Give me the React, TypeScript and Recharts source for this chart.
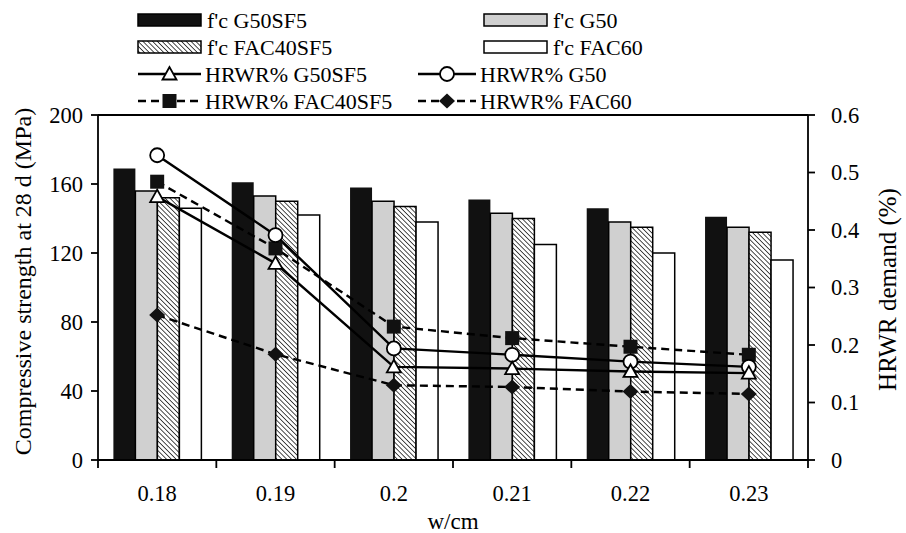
import { ComposedChart, Bar, Line, XAxis, YAxis, ReferenceLine } from 'recharts'

document.body.style.margin = '0'

const wcm = ['0.18', '0.19', '0.2', '0.21', '0.22', '0.23']

// compressive strength at 28 d (MPa)
const fcG50SF5 = [169, 161, 158, 151, 146, 141]
const fcG50 = [156, 153, 150, 143, 138, 135]
const fcFAC40SF5 = [152, 150, 147, 140, 135, 132]
const fcFAC60 = [146, 142, 138, 125, 120, 116]

// HRWR demand (%)
const hrwrG50SF5 = [0.458, 0.342, 0.162, 0.159, 0.154, 0.151]
const hrwrG50 = [0.53, 0.391, 0.194, 0.183, 0.171, 0.162]
const hrwrFAC40SF5 = [0.484, 0.368, 0.232, 0.212, 0.197, 0.183]
const hrwrFAC60 = [0.252, 0.184, 0.13, 0.127, 0.119, 0.115]

const strengthTicks = [0, 40, 80, 120, 160, 200]
const hrwrTicks = [0, 0.1, 0.2, 0.3, 0.4, 0.5, 0.6]

const data = wcm.map((w, i) => ({
  wcm: w,
  fcG50SF5: fcG50SF5[i],
  fcG50: fcG50[i],
  fcFAC40SF5: fcFAC40SF5[i],
  fcFAC60: fcFAC60[i],
  hrwrG50SF5: hrwrG50SF5[i],
  hrwrG50: hrwrG50[i],
  hrwrFAC40SF5: hrwrFAC40SF5[i],
  hrwrFAC60: hrwrFAC60[i],
}))

const FONT = '"Liberation Serif", "Times New Roman", serif'
const INK = '#111'
const GRAY = '#d0d0d0'
const DASH = '8 5'
const LW = 2.4
const axisStroke = { stroke: '#000', strokeWidth: 1.8 }
const tickStyle = { fill: '#000', fontSize: 22.5, fontFamily: FONT }

const Triangle = ({ cx, cy }: any) => (
  <polygon
    points={`${cx},${cy - 7} ${cx - 7},${cy + 5.5} ${cx + 7},${cy + 5.5}`}
    fill="#fff" stroke="#000" strokeWidth={1.8}
  />
)
const Circle = ({ cx, cy }: any) => (
  <circle cx={cx} cy={cy} r={7} fill="#fff" stroke="#000" strokeWidth={1.8} />
)
const Square = ({ cx, cy }: any) => (
  <rect x={cx - 7} y={cy - 7} width={14} height={14} fill={INK} />
)
const Diamond = ({ cx, cy }: any) => (
  <polygon points={`${cx},${cy - 7.5} ${cx + 8},${cy} ${cx},${cy + 7.5} ${cx - 8},${cy}`} fill={INK} />
)

// category label in the middle, tick marks on the category edges
const XTick = ({ x, y, payload, index, visibleTicksCount }: any) => {
  const half = payload?.offset || 710 / 12
  const last = index === visibleTicksCount - 1
  return (
    <g>
      <line x1={x - half} x2={x - half} y1={y} y2={y + 8} stroke="#000" strokeWidth={1.8} />
      {last && <line x1={x + half} x2={x + half} y1={y} y2={y + 8} stroke="#000" strokeWidth={1.8} />}
      <text x={x} y={y + 25} dy="0.71em" textAnchor="middle" fontSize={22.5} fontFamily={FONT} fill="#000">
        {payload.value}
      </text>
    </g>
  )
}

const XTitle = ({ viewBox }: any) => (
  <text x={viewBox.x + viewBox.width / 2} y={viewBox.y + 61} dy="0.35em" textAnchor="middle"
    fontSize={23} fontFamily={FONT} fill="#000">
    w/cm
  </text>
)
const LeftTitle = ({ viewBox }: any) => {
  const x = viewBox.x - 15
  const y = viewBox.y + viewBox.height / 2 - 6
  return (
    <text x={x} y={y} transform={`rotate(-90, ${x}, ${y})`} textAnchor="middle"
      dy="0.35em" fontSize={24} fontFamily={FONT} fill="#000">
      Compressive strength at 28 d (MPa)
    </text>
  )
}
const RightTitle = ({ viewBox }: any) => {
  const x = viewBox.x + 79
  const y = viewBox.y + viewBox.height / 2 + 2
  return (
    <text x={x} y={y} transform={`rotate(-90, ${x}, ${y})`} textAnchor="middle"
      dy="0.35em" fontSize={25} fontFamily={FONT} fill="#000">
      HRWR demand (%)
    </text>
  )
}

const legendBars = [
  { label: "f'c G50SF5", fill: INK, x: 138, row: 0 },
  { label: "f'c G50", fill: GRAY, x: 484, row: 0 },
  { label: "f'c FAC40SF5", fill: 'url(#hatchL)', x: 138, row: 1 },
  { label: "f'c FAC60", fill: '#fff', x: 484, row: 1 },
]
const legendLines = [
  { label: 'HRWR% G50SF5', dash: undefined, Mark: Triangle, x: 138, w: 63, row: 2 },
  { label: 'HRWR% G50', dash: undefined, Mark: Circle, x: 418, w: 58, row: 2 },
  { label: 'HRWR% FAC40SF5', dash: DASH, Mark: Square, x: 138, w: 63, row: 3 },
  { label: 'HRWR% FAC60', dash: DASH, Mark: Diamond, x: 418, w: 58, row: 3 },
]
const rowY = [20, 47, 74, 101]

function LegendBlock() {
  return (
    <svg width={906} height={120} style={{ position: 'absolute', left: 0, top: 0 }}>
      <defs>
        <pattern id="hatchL" patternUnits="userSpaceOnUse" width={3.4} height={3.4} patternTransform="rotate(-45)">
          <rect width={3.4} height={3.4} fill="#fff" />
          <line x1={0} y1={0} x2={0} y2={3.4} stroke="#000" strokeWidth={1.4} />
        </pattern>
      </defs>
      {legendBars.map((b) => (
        <g key={b.label}>
          <rect x={b.x} y={rowY[b.row] - 6} width={63} height={12} fill={b.fill} stroke="#000" strokeWidth={1.5} />
          <text x={b.x + 69} y={rowY[b.row]} dy="0.35em" fontSize={22} fontFamily={FONT} fill="#000">{b.label}</text>
        </g>
      ))}
      {legendLines.map(({ label, dash, Mark, x, w, row }) => (
        <g key={label}>
          <line x1={x} x2={x + w} y1={rowY[row]} y2={rowY[row]} stroke="#000" strokeWidth={LW} strokeDasharray={dash} />
          <Mark cx={x + w / 2} cy={rowY[row]} />
          <text x={x + w + 4} y={rowY[row]} dy="0.35em" fontSize={22} fontFamily={FONT} fill="#000">{label}</text>
        </g>
      ))}
    </svg>
  )
}

export default function App() {
  return (
    <div style={{ position: 'relative', width: 906, height: 533, background: '#fff', fontFamily: FONT }}>
      <ComposedChart
        width={906}
        height={533}
        data={data}
        margin={{ top: 115, right: 38, left: 38, bottom: 23 }}
        barCategoryGap="13%"
        barGap={0}
      >
        <defs>
          <pattern id="hatch" patternUnits="userSpaceOnUse" width={3.4} height={3.4} patternTransform="rotate(-45)">
            <rect width={3.4} height={3.4} fill="#fff" />
            <line x1={0} y1={0} x2={0} y2={3.4} stroke="#000" strokeWidth={1.4} />
          </pattern>
        </defs>
        <XAxis
          xAxisId="cat"
          dataKey="wcm"
          height={50}
          axisLine={axisStroke}
          tickLine={false}
          tickSize={0}
          tickMargin={0}
          tick={(p: any) => <XTick {...p} />}
          interval={0}
          label={(p: any) => <XTitle {...p} />}
        />
        <YAxis
          yAxisId="left"
          domain={[0, 200]}
          ticks={strengthTicks}
          width={60}
          axisLine={axisStroke}
          tickLine={axisStroke}
          tickSize={7}
          tickMargin={8}
          tick={tickStyle}
          label={(p: any) => <LeftTitle {...p} />}
        />
        <YAxis
          yAxisId="right"
          orientation="right"
          domain={[0, 0.6]}
          ticks={hrwrTicks}
          width={60}
          axisLine={axisStroke}
          tickLine={axisStroke}
          tickSize={7}
          tickMargin={16}
          tick={tickStyle}
          label={(p: any) => <RightTitle {...p} />}
        />
        <ReferenceLine yAxisId="left" xAxisId="cat" y={200} stroke="#000" strokeWidth={1.8} />

        <Bar xAxisId="cat" yAxisId="left" dataKey="fcG50SF5" fill={INK} isAnimationActive={false} />
        <Bar xAxisId="cat" yAxisId="left" dataKey="fcG50" fill={GRAY} stroke="#000" strokeWidth={1.5} isAnimationActive={false} />
        <Bar xAxisId="cat" yAxisId="left" dataKey="fcFAC40SF5" fill="url(#hatch)" stroke="#000" strokeWidth={1.5} isAnimationActive={false} />
        <Bar xAxisId="cat" yAxisId="left" dataKey="fcFAC60" fill="#fff" stroke="#000" strokeWidth={1.5} isAnimationActive={false} />

        <Line xAxisId="cat" yAxisId="right" dataKey="hrwrFAC60" stroke="#000" strokeWidth={LW} strokeDasharray={DASH}
          dot={(p: any) => <Diamond key={`d${p.index}`} cx={p.cx} cy={p.cy} />} activeDot={false} isAnimationActive={false} />
        <Line xAxisId="cat" yAxisId="right" dataKey="hrwrFAC40SF5" stroke="#000" strokeWidth={LW} strokeDasharray={DASH}
          dot={(p: any) => <Square key={`s${p.index}`} cx={p.cx} cy={p.cy} />} activeDot={false} isAnimationActive={false} />
        <Line xAxisId="cat" yAxisId="right" dataKey="hrwrG50" stroke="#000" strokeWidth={LW}
          dot={(p: any) => <Circle key={`c${p.index}`} cx={p.cx} cy={p.cy} />} activeDot={false} isAnimationActive={false} />
        <Line xAxisId="cat" yAxisId="right" dataKey="hrwrG50SF5" stroke="#000" strokeWidth={LW}
          dot={(p: any) => <Triangle key={`t${p.index}`} cx={p.cx} cy={p.cy} />} activeDot={false} isAnimationActive={false} />
      </ComposedChart>
      <LegendBlock />
    </div>
  )
}
